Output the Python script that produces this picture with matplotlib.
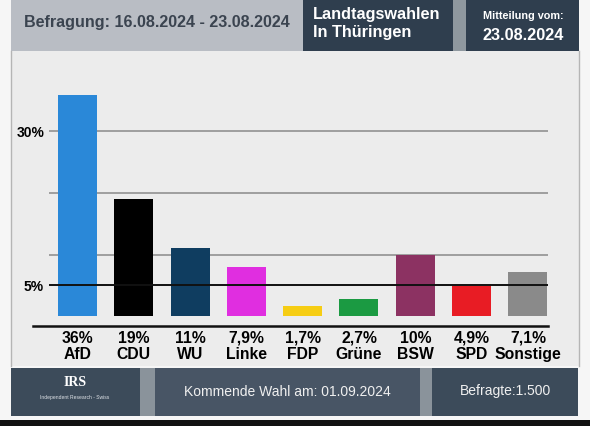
import matplotlib
matplotlib.use("Agg")
import matplotlib.pyplot as plt
from matplotlib.patches import Rectangle
from matplotlib.lines import Line2D

parties = ["AfD", "CDU", "WU", "Linke", "FDP", "Grüne", "BSW", "SPD", "Sonstige"]
values = [36, 19, 11, 7.9, 1.7, 2.7, 10, 4.9, 7.1]
value_labels = ["36%", "19%", "11%", "7,9%", "1,7%", "2,7%", "10%", "4,9%", "7,1%"]
colors = ["#2a88d8", "#000000", "#0f3d60", "#e02ee0", "#f6cd14", "#1b9a42",
          "#8c3262", "#e81c24", "#8a8a8a"]
grid_values = [10, 20, 30]
ref_line = 5
ytick_values = [5, 30]
ytick_labels = ["5%", "30%"]

W, H = 590, 426
fig = plt.figure(figsize=(W / 100, H / 100), dpi=100)
fig.patch.set_facecolor("#f6f6f6")
FONT = "Liberation Sans"


def fx(x):
    return x / W


def fy(y):
    return 1 - y / H


def box(x0, y0, x1, y1, color, z=0):
    fig.add_artist(Rectangle((fx(x0), fy(y1)), fx(x1) - fx(x0), fy(y0) - fy(y1),
                             transform=fig.transFigure, facecolor=color,
                             edgecolor="none", zorder=z))


# panel
box(11, 51, 579, 366, "#ececec")
fig.add_artist(Line2D([fx(11), fx(11)], [fy(51), fy(366)], color="#b5b5b5", lw=1,
                      transform=fig.transFigure))
fig.add_artist(Line2D([fx(579), fx(579)], [fy(51), fy(366)], color="#b5b5b5", lw=1,
                      transform=fig.transFigure))
# header
box(11, 0, 303, 51, "#b9bdc4")
box(303, 0, 453, 51, "#2f3e4e")
box(453, 0, 466, 51, "#8f989f")
box(466, 0, 579, 51, "#2f3e4e")
# footer
box(11, 368, 140, 416, "#3c4b5a")
box(140, 368, 155, 416, "#8a939b")
box(155, 368, 420, 416, "#485565")
box(420, 368, 432, 416, "#8a939b")
box(432, 368, 578, 416, "#3c4b5a")
box(0, 420, 590, 426, "#111111")

# header texts
fig.text(fx(157), fy(22), "Befragung: 16.08.2024 - 23.08.2024", family=FONT,
         fontweight="bold", fontsize=11.6, color="#3b4450", ha="center", va="center")
fig.text(fx(313), fy(15), "Landtagswahlen", family=FONT, fontweight="bold",
         fontsize=11.7, color="white", ha="left", va="center")
fig.text(fx(313), fy(33), "In Thüringen", family=FONT, fontweight="bold",
         fontsize=11.7, color="white", ha="left", va="center")
fig.text(fx(523), fy(16), "Mitteilung vom:", family=FONT, fontweight="bold",
         fontsize=7.8, color="white", ha="center", va="center")
fig.text(fx(523), fy(36), "23.08.2024", family=FONT, fontweight="bold",
         fontsize=11.7, color="white", ha="center", va="center")
# footer texts
fig.text(fx(75), fy(383), "IRS", family="Liberation Serif", fontweight="bold",
         fontsize=10, color="white", ha="center", va="center")
fig.text(fx(75), fy(397), "Independent Research - Swiss", family=FONT,
         fontsize=3.6, color="#dfe3e8", ha="center", va="center")
fig.text(fx(287), fy(392), "Kommende Wahl am: 01.09.2024", family=FONT,
         fontsize=10, color="#f0f0f0", ha="center", va="center")
fig.text(fx(505), fy(391), "Befragte:1.500", family=FONT,
         fontsize=10, color="#f0f0f0", ha="center", va="center")

# chart axes
ax_l, ax_r, ax_t, ax_b = 33, 548, 80, 326
ax = fig.add_axes([fx(ax_l), fy(ax_b), fx(ax_r) - fx(ax_l), fy(ax_t) - fy(ax_b)])
ax.set_facecolor("none")
scale = 6.15  # px per percent
c0, step = 77.5, 56.3
x = list(range(len(parties)))
ax.set_xlim((ax_l - c0) / step, (ax_r - c0) / step)
ylo = -(ax_b - 316) / scale
ax.set_ylim(ylo, ylo + (ax_b - ax_t) / scale)
gx0 = (49 - c0) / step
ax.hlines(grid_values, gx0, (ax_r - c0) / step, color="#8a8a8a", lw=1.1, zorder=1)
ax.bar(x, values, width=39 / step, color=colors, zorder=2)
ax.hlines([ref_line], gx0, (ax_r - c0) / step, color="#111111", lw=1.4, zorder=3)
for s in ["top", "right", "left"]:
    ax.spines[s].set_visible(False)
ax.spines["bottom"].set_color("#111111")
ax.spines["bottom"].set_linewidth(1.8)
ax.set_xticks(x)
ax.set_xticklabels([f"{v}\n{p}" for v, p in zip(value_labels, parties)],
                   family=FONT, fontweight="bold", fontsize=11.3, linespacing=1.1)
ax.tick_params(axis="x", length=0, pad=3.5)
ax.set_yticks(ytick_values)
ax.set_yticklabels(ytick_labels, family=FONT, fontweight="bold", fontsize=10)
ax.tick_params(axis="y", length=0, pad=-8)
for lab in ax.get_yticklabels():
    lab.set_horizontalalignment("right")

fig.savefig("out.png", dpi=100, facecolor=fig.get_facecolor())
